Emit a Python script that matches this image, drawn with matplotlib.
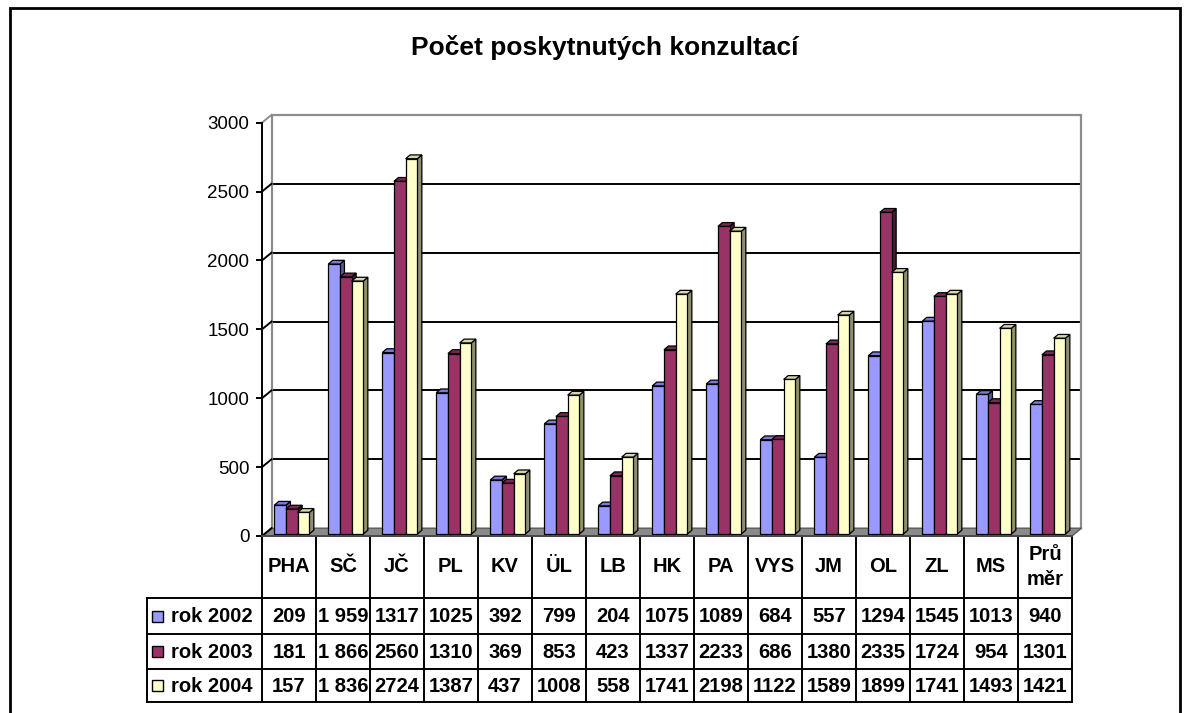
import matplotlib
matplotlib.use("Agg")
import matplotlib.pyplot as plt
from matplotlib.patches import Polygon, Rectangle

plt.rcParams['font.family'] = ['Liberation Sans', 'DejaVu Sans']

# ---------------- data ----------------
title = "Počet poskytnutých konzultací"
categories = ["PHA", "SČ", "JČ", "PL", "KV", "ÜL", "LB", "HK", "PA", "VYS",
              "JM", "OL", "ZL", "MS", "Prů\nměr"]
series_names = ["rok 2002", "rok 2003", "rok 2004"]
rok_2002 = [209, 1959, 1317, 1025, 392, 799, 204, 1075, 1089, 684, 557, 1294, 1545, 1013, 940]
rok_2003 = [181, 1866, 2560, 1310, 369, 853, 423, 1337, 2233, 686, 1380, 2335, 1724, 954, 1301]
rok_2004 = [157, 1836, 2724, 1387, 437, 1008, 558, 1741, 2198, 1122, 1589, 1899, 1741, 1493, 1421]
y_ticks = [0, 500, 1000, 1500, 2000, 2500, 3000]
sep_columns = ["SČ"]   # columns printed with a thousands separator

series_values = [rok_2002, rok_2003, rok_2004]
front_colors = ["#9999FF", "#993366", "#FFFFCC"]
top_colors = ["#7b7bd6", "#7a2952", "#d6d6a8"]
side_colors = ["#5a5a99", "#4d1a33", "#8f8f70"]

# ---------------- geometry (pixels) ----------------
W, H = 1188, 713
fig = plt.figure(figsize=(W / 100, H / 100), dpi=100)


def rect(x0, y0, x1, y1):
    return [x0 / W, 1 - y1 / H, (x1 - x0) / W, (y1 - y0) / H]


FX0, FX1 = 262, 1072
FY0, FYTOP = 536, 122.7
BDX, BDY = 9.5, -7.8
BARDX, BARDY = 2.8, -2.0
DEPTH_X, DEPTH_Y = 4.5, 3.8
n = len(categories)
YMAX = y_ticks[-1]
px_per_cat = (FX1 - FX0) / n
px_per_val = (FY0 - FYTOP) / YMAX

# back wall axes
axb = fig.add_axes(rect(FX0 + BDX, FYTOP + BDY, FX1 + BDX, FY0 + BDY))
axb.set_xlim(-0.5, n - 0.5)
axb.set_ylim(0, YMAX)
axb.axis('off')
axb.hlines(y_ticks[1:-1], -0.5, n - 0.5, color='black', lw=1.4)
axb.plot([-0.5, -0.5, n - 0.5, n - 0.5], [0, YMAX, YMAX, 0], color='#8c8c8c',
         lw=1.6, clip_on=False, solid_joinstyle='miter')

# front axes (value axis, floor)
axf = fig.add_axes(rect(FX0, FYTOP, FX1, FY0))
axf.patch.set_alpha(0)
axf.set_xlim(-0.5, n - 0.5)
axf.set_ylim(0, YMAX)
for s in ['top', 'right', 'bottom']:
    axf.spines[s].set_visible(False)
axf.spines['left'].set_linewidth(1.4)
axf.set_xticks([])
axf.set_yticks(y_ticks)
axf.tick_params(axis='y', direction='out', length=4, width=1.4, pad=5, labelsize=13.5)
bdx_d = BDX / px_per_cat
bdy_d = -BDY / px_per_val
for t in y_ticks:
    col = '#8c8c8c' if t == YMAX else 'black'
    axf.plot([-0.5, -0.5 + bdx_d], [t, t + bdy_d], color=col, lw=1.4, clip_on=False)
floor = Polygon([(-0.5, 0), (n - 0.5, 0), (n - 0.5 + bdx_d, bdy_d), (-0.5 + bdx_d, bdy_d)],
                closed=True, facecolor='#8a8a8a', edgecolor='#5a5a5a', lw=1.0, clip_on=False)
axf.add_patch(floor)

# bar axes
axr = fig.add_axes(rect(FX0 + BARDX, FYTOP + BARDY, FX1 + BARDX, FY0 + BARDY))
axr.patch.set_alpha(0)
axr.set_xlim(-0.5, n - 0.5)
axr.set_ylim(0, YMAX)
axr.axis('off')
bw = 11.7 / px_per_cat
ddx = DEPTH_X / px_per_cat
ddy = DEPTH_Y / px_per_val
for k, vals in enumerate(series_values):
    xs = [i + (k - 1) * bw for i in range(n)]
    bars = axr.bar(xs, vals, width=bw, color=front_colors[k], edgecolor='black',
                   lw=0.9, zorder=3 + 3 * k, clip_on=False)
    for b in bars:
        L, h, w = b.get_x(), b.get_height(), b.get_width()
        side = Polygon([(L + w, 0), (L + w, h), (L + w + ddx, h + ddy), (L + w + ddx, ddy)],
                       closed=True, facecolor=side_colors[k], edgecolor='black', lw=0.9,
                       zorder=2 + 3 * k, clip_on=False)
        top = Polygon([(L, h), (L + w, h), (L + w + ddx, h + ddy), (L + ddx, h + ddy)],
                      closed=True, facecolor=top_colors[k], edgecolor='black', lw=0.9,
                      zorder=2 + 3 * k, clip_on=False)
        axr.add_patch(side)
        axr.add_patch(top)

# ---------------- data table ----------------
TX0 = 146.7
TY_TOP, TY_HDR, TY_BOT = 536, 598, 702.3
row_lines = [598, 634.3, 669, 702.3]
axt = fig.add_axes(rect(TX0, TY_TOP, FX1, TY_BOT))
axt.patch.set_alpha(0)
xl = -0.5 - (FX0 - TX0) / px_per_cat
axt.set_xlim(xl, n - 0.5)
axt.set_ylim(TY_BOT, TY_TOP)
axt.axis('off')
lw_t = 1.4
for y in row_lines:
    axt.plot([xl, n - 0.5], [y, y], color='black', lw=lw_t, clip_on=False)
for i in range(n + 1):
    axt.plot([i - 0.5, i - 0.5], [TY_TOP, TY_BOT], color='black', lw=lw_t, clip_on=False)
axt.plot([xl, xl], [TY_HDR, TY_BOT], color='black', lw=lw_t, clip_on=False)
axt.plot([-0.5, n - 0.5], [TY_TOP, TY_TOP], color='#4a4a4a', lw=lw_t, clip_on=False)

FS = 14.5
for i, c in enumerate(categories):
    axt.text(i, (TY_TOP + TY_HDR) / 2, c, ha='center', va='center', fontsize=FS,
             fontweight='bold', linespacing=1.35)


def fmt(v, sep):
    return f"{v:,}".replace(",", " ") if sep else str(v)


for k, vals in enumerate(series_values):
    yc = (row_lines[k] + row_lines[k + 1]) / 2
    for i, v in enumerate(vals):
        axt.text(i, yc + 0.5, fmt(v, categories[i] in sep_columns), ha='center', va='center',
                 fontsize=FS, fontweight='bold')
    kx = xl + (152 - TX0) / px_per_cat
    axt.add_patch(Rectangle((kx, yc - 5.5), 11 / px_per_cat, 11, facecolor=front_colors[k],
                            edgecolor='black', lw=1.0, clip_on=False))
    axt.text(xl + (171 - TX0) / px_per_cat, yc + 0.5, series_names[k], ha='left', va='center',
             fontsize=FS, fontweight='bold')

# ---------------- title and frame ----------------
fig.text(605 / W, 1 - 47 / H, title, ha='center', va='center', fontsize=19, fontweight='bold')
fig.add_artist(Rectangle((10 / W, -0.05), (1180 - 10) / W, 1.05 - 8 / H, transform=fig.transFigure,
                         fill=False, edgecolor='black', lw=2))

fig.savefig("out.png", dpi=100)
